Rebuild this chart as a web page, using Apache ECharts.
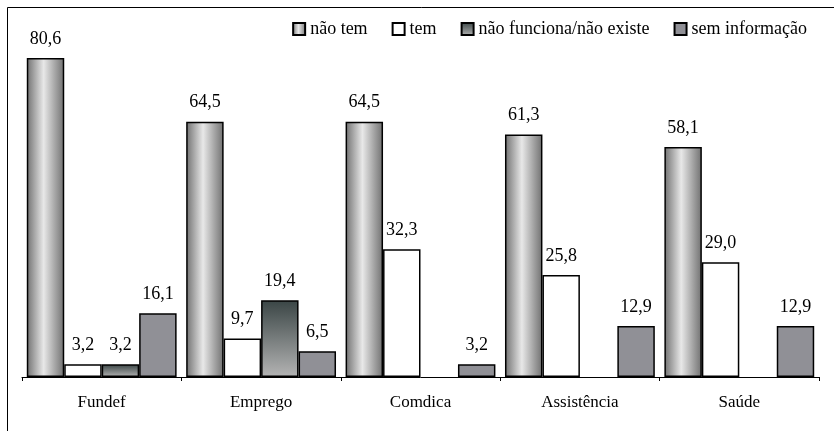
<!DOCTYPE html>
<html><head><meta charset="utf-8">
<script src="https://cdn.jsdelivr.net/npm/echarts@6/dist/echarts.min.js"></script>
<style>html,body{margin:0;padding:0;background:#fff}#c{width:834px;height:431px}</style>
</head><body><div id="c"></div>
<script>
const categories = ['Fundef', 'Emprego', 'Comdica', 'Assistência', 'Saúde'];
const seriesNames = ['não tem', 'tem', 'não funciona/não existe', 'sem informação'];
const naoTem = [80.6, 64.5, 64.5, 61.3, 58.1];
const tem = [3.2, 9.7, 32.3, 25.8, 29.0];
const naoFunciona = [3.2, 19.4, null, null, null];
const semInformacao = [16.1, 6.5, 3.2, 12.9, 12.9];

const ff = "'Liberation Serif', serif";
const fills = [
  {type:'linear',x:0,y:0,x2:1,y2:0,colorStops:[{offset:0,color:'#707070'},{offset:0.45,color:'#e8e8e8'},{offset:1,color:'#707070'}]},
  '#ffffff',
  {type:'linear',x:0,y:0,x2:0,y2:1,colorStops:[{offset:0,color:'#3a4545'},{offset:1,color:'#b4b4b4'}]},
  '#909096'
];
const dataSets = [naoTem, tem, naoFunciona, semInformacao];

const chart = echarts.init(document.getElementById('c'));
chart.setOption({
  animation: false,
  backgroundColor: '#fff',
  textStyle: {fontFamily: ff},
  graphic: [{type:'rect', shape:{x:7.5,y:7.5,width:900,height:500}, style:{fill:'none',stroke:'#000',lineWidth:1}, silent:true}],
  legend: {
    right: 22, top: 15,
    itemWidth: 12, itemHeight: 12, itemGap: 24,
    icon: 'rect',
    textStyle: {fontFamily: ff, fontSize: 18, color: '#000'},
    data: seriesNames
  },
  grid: {left: 22, right: 15, top: 58, bottom: 54},
  xAxis: {
    type: 'category', data: categories,
    axisLine: {lineStyle: {color:'#000', width:1}},
    axisTick: {show:true, length:4, lineStyle:{color:'#000'}},
    axisLabel: {fontFamily: ff, fontSize: 17, color:'#000', margin: 17}
  },
  yAxis: {type:'value', min:0, max:80.6, show:false, splitLine:{show:false}},
  series: seriesNames.map((n,i)=>({
    name: n, type:'bar', data: dataSets[i],
    barGap: '0%', barCategoryGap: '6%',
    itemStyle: {color: fills[i], borderColor:'#000', borderWidth:1.5},
    label: {show:true, position:'top', distance:10, fontFamily: ff, fontSize: 18, color:'#000',
      formatter: p => p.value==null ? '' : p.value.toFixed(1).replace('.', ',')}
  }))
});
</script></body></html>
